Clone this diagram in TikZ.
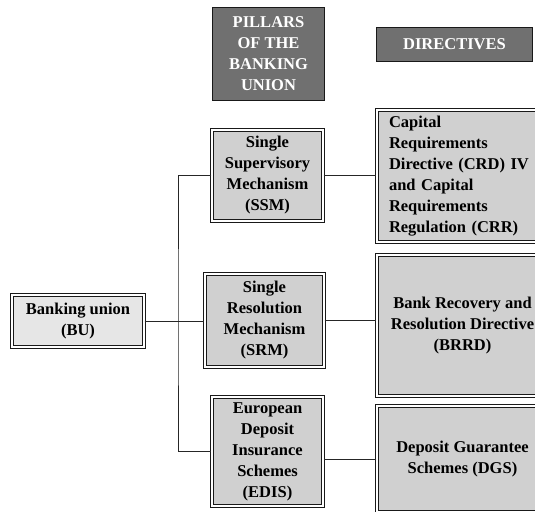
\documentclass[tikz,border=0pt]{standalone}
\usepackage{fontspec}
\setmainfont{Liberation Serif}
\usepackage{tikz}
\usetikzlibrary{positioning,calc}

\definecolor{headgray}{HTML}{707070}
\definecolor{boxgray}{HTML}{D0D0D0}
\definecolor{rootgray}{HTML}{E6E6E6}

\begin{document}
\begin{tikzpicture}[x=1pt,y=1pt]
                        \tikzstyle{every node}=[rectangle,inner sep=0,font=\fontsize{16.5}{21}\selectfont\bfseries]
                        \tikzstyle{head}=[draw=black!90,line width=1,fill=headgray,text=white,align=center]
                        \tikzstyle{dbox}=[draw=black!90,line width=1.1,double=white,double distance=1.1,fill=boxgray,align=center]
                        \tikzstyle{root}=[dbox,fill=rootgray]
                        \tikzstyle{link}=[draw=black!85,line width=1]
                        \useasboundingbox (0,0) rectangle (535,-511);
                        {
                            \node[head,minimum width=112,minimum height=93] (pillars) at (268.5,-54) {PILLARS\\OF THE\\BANKING\\UNION};
                            \node[head,minimum width=156,minimum height=34] (directives) at (454.5,-44.5) {DIRECTIVES};

                            \node[root,minimum width=132,minimum height=52] (bu) at (78,-321) {Banking union\\(BU)};

                            \node[dbox,minimum width=111,minimum height=91] (ssm) at (267.5,-175.5) {Single\\Supervisory\\Mechanism\\(SSM)};
                            \node[dbox,minimum width=119,minimum height=93] (srm) at (264.5,-320.5) {Single\\Resolution\\Mechanism\\(SRM)};
                            \node[dbox,minimum width=111,minimum height=109] (edis) at (267.5,-451.5) {European\\Deposit\\Insurance\\Schemes\\(EDIS)};

                            \node[dbox,align=left,text width=147,inner xsep=12,minimum height=132] (crd) at (462.5,-176)
                                {Capital\\Requirements\\Directive (CRD) IV\\and Capital\\Requirements\\Regulation (CRR)};
                            \node[dbox,minimum width=171,minimum height=141] (brrd) at (462.5,-325.5) {Bank Recovery and\\Resolution Directive\\(BRRD)};
                            \node[dbox,minimum width=171,minimum height=106] (dgs) at (462.5,-459) {Deposit Guarantee\\Schemes (DGS)};

                            \coordinate (trunk) at (178,-321);

                            \draw[link] (bu.east) -- (bu.east -| srm.west);
                            \draw[link] (ssm.west) -| (trunk) |- (edis.west);
                            \draw[link] (ssm.east) -- (ssm.east -| crd.west);
                            \draw[link] (srm.east) -- (srm.east -| brrd.west);
                            \draw[link] (dgs.west) -- (dgs.west -| edis.east);
                        }
                    \end{tikzpicture}
\end{document}
